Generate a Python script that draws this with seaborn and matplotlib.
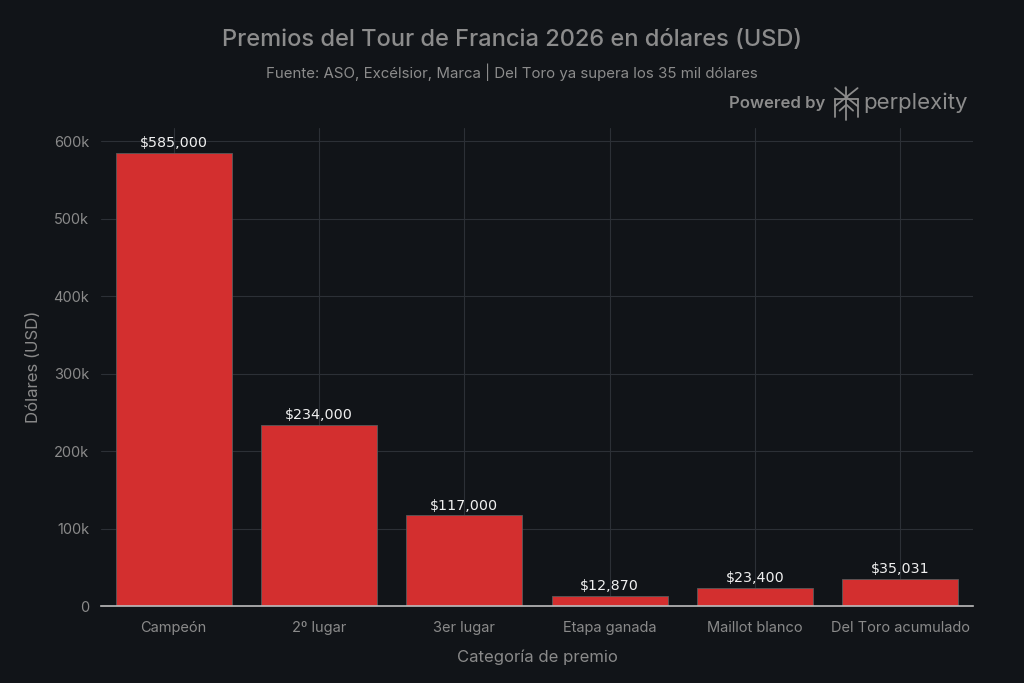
import matplotlib
matplotlib.use("Agg")
import matplotlib.pyplot as plt
import seaborn as sns
import pandas as pd
from matplotlib.lines import Line2D

categories = ["Campeón", "2º lugar", "3er lugar", "Etapa ganada", "Maillot blanco", "Del Toro acumulado"]
values = [585000, 234000, 117000, 12870, 23400, 35031]
value_labels = ["$585,000", "$234,000", "$117,000", "$12,870", "$23,400", "$35,031"]
yticks = [0, 100000, 200000, 300000, 400000, 500000, 600000]
ytick_labels = ["0", "100k", "200k", "300k", "400k", "500k", "600k"]

BG = "#111418"
BAR = "#D32F2F"
GRID = "#2c3036"
TXT = "#8a8a8a"

sns.set_theme(style="dark")
plt.rcParams['font.family'] = ['Inter', 'DejaVu Sans']

df = pd.DataFrame({"cat": categories, "val": values})

fig = plt.figure(figsize=(10.24, 6.83), dpi=100, facecolor=BG)
ax = fig.add_axes([0.0986, 0.1127, 0.8516, 0.6999])
ax.set_facecolor(BG)

sns.barplot(data=df, x="cat", y="val", color=BAR, saturation=1, width=0.8,
            edgecolor="#5a5a5a", linewidth=0.6, ax=ax, zorder=3)

ax.set_xlim(-0.5, 5.5)
ax.set_ylim(0, 616800)
ax.set_yticks(yticks)
ax.set_yticklabels(ytick_labels)
ax.grid(True, axis="both", color=GRID, linewidth=0.8, zorder=0)
ax.set_axisbelow(True)
for s in ["top", "right", "left"]:
    ax.spines[s].set_visible(False)
ax.spines["bottom"].set_color("#bdbdbd")
ax.spines["bottom"].set_linewidth(1.2)
ax.spines["bottom"].set_zorder(4)

ax.tick_params(axis="both", colors="#555a60", labelcolor=TXT, labelsize=10.5, length=5, width=0.8)
ax.tick_params(axis="x", pad=6)

for i, (v, lab) in enumerate(zip(values, value_labels)):
    ax.annotate(lab, (i, v), xytext=(0, 2), textcoords="offset points",
                ha="center", va="bottom", color="#f0f0f0", fontsize=10.3,
                family=["DejaVu Sans"], zorder=5)

ax.set_xlabel("Categoría de premio", color=TXT, fontsize=12, labelpad=10)
ax.set_ylabel("Dólares (USD)", color=TXT, fontsize=12, labelpad=9)

fig.text(0.5, 0.941, "Premios del Tour de Francia 2026 en dólares (USD)", ha="center", va="center",
         color="#8c8c8c", fontsize=17, fontweight="medium")
fig.text(0.5, 0.894, "Fuente: ASO, Excélsior, Marca | Del Toro ya supera los 35 mil dólares", ha="center",
         va="center", color="#8c8c8c", fontsize=10.8)

# Powered by perplexity
fig.text(0.806, 0.849, "Powered by", ha="right", va="center", color="#8c8c8c", fontsize=12, fontweight="semibold")
fig.text(0.843, 0.849, "perplexity", ha="left", va="center", color="#8c8c8c", fontsize=16)
cx, cy = 0.8265, 0.849
w, h = 0.011, 0.022
lc = "#8c8c8c"
segs = [
    ([cx - w, cx + w], [cy + h, cy - h * 0.2]),
    ([cx + w, cx - w], [cy + h, cy - h * 0.2]),
    ([cx, cx], [cy + h * 1.1, cy - h * 1.1]),
    ([cx - w, cx - w], [cy + h * 0.3, cy - h * 0.9]),
    ([cx + w, cx + w], [cy + h * 0.3, cy - h * 0.9]),
    ([cx - w, cx + w], [cy + h * 0.3, cy + h * 0.3]),
    ([cx - w * 0.6, cx], [cy - h * 0.5, cy - h * 0.1]),
    ([cx + w * 0.6, cx], [cy - h * 0.5, cy - h * 0.1]),
]
for xs, ys in segs:
    fig.add_artist(Line2D(xs, ys, transform=fig.transFigure, color=lc, linewidth=1.3))

fig.savefig("out.png", dpi=100, facecolor=BG)
